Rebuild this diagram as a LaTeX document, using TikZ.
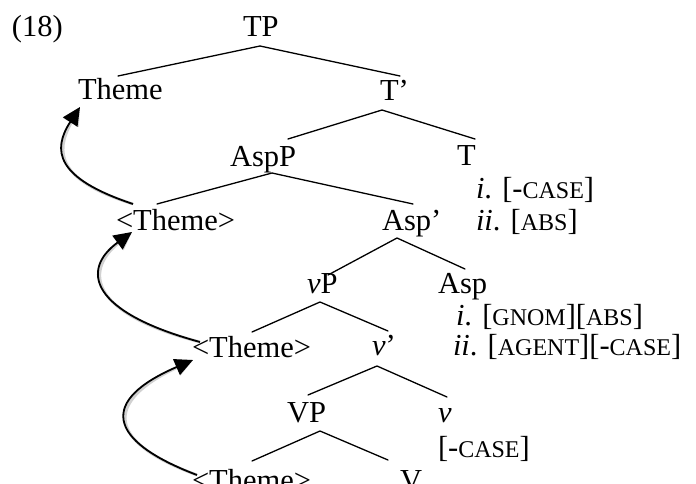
\documentclass[tikz,border=0pt]{standalone}
\usepackage{fontspec}
\setmainfont{Liberation Serif}
\usetikzlibrary{arrows.meta}
\newcommand\fsc[1]{{\fontsize{24}{24}\selectfont #1}}
\begin{document}
\begin{tikzpicture}[x=1pt,y=-1pt,
  lbl/.style={inner sep=0pt, outer sep=0pt, anchor=base west, font=\fontsize{30.5}{32}\selectfont},
  branch/.style={line width=1.3pt, line cap=round},
  move/.style={line width=1.8pt, -{Triangle[length=18pt,width=17pt]}},
  moveshadow/.style={line width=2.8pt, draw=black!18, -{Triangle[length=18pt,width=17pt,fill=black!18]}, shift={(2.5,2.5)}}]
\useasboundingbox (0,0) rectangle (696,484);
% labels
\node[lbl] (ex) at (12,37) {(18)};
\node[lbl] (TP) at (243,37) {TP};
\node[lbl] (Th0) at (78,100) {Theme};
\node[lbl] (Tb) at (380,101) {T’};
\node[lbl] (AspP) at (230,167) {AspP};
\node[lbl] (T) at (457,165) {T};
\node[lbl] (Tf1) at (476,198) {\textit{i}. [-\fsc{CASE}]};
\node[lbl] (Th1) at (116,230) {<Theme>};
\node[lbl] (Aspb) at (382,230) {Asp’};
\node[lbl] (Tf2) at (476,230) {\textit{ii}. [\fsc{ABS}]};
\node[lbl] (vP) at (307,293) {\textit{v}P};
\node[lbl] (Asp) at (438,293) {Asp};
\node[lbl] (Af1) at (456,325) {\textit{i}. [\fsc{GNOM}][\fsc{ABS}]};
\node[lbl] (Th2) at (192,357) {<Theme>};
\node[lbl] (vb) at (372,355) {\textit{v}’};
\node[lbl] (Af2) at (453,355) {\textit{ii}. [\fsc{AGENT}][-\fsc{CASE}]};
\node[lbl] (VP) at (287,422) {VP};
\node[lbl] (v) at (438,422) {\textit{v}};
\node[lbl] (vf) at (438,457) {[-\fsc{CASE}]};
\node[lbl] (Th3) at (192,490) {<Theme>};
\node[lbl] (V) at (400,490) {V};
% branch points
\coordinate (aTP) at (260,46);
\coordinate (eTh0) at (118,76);
\coordinate (eTb) at (400,76);
\coordinate (aTb) at (382,110);
\coordinate (eAspP) at (288,139);
\coordinate (eT) at (475,139);
\coordinate (aAspP) at (272,173);
\coordinate (eTh1) at (157,204);
\coordinate (eAspb) at (413,204);
\coordinate (aAspb) at (397,238);
\coordinate (evP) at (328,275);
\coordinate (eAsp) at (465,269);
\coordinate (avP) at (320,302);
\coordinate (eTh2) at (252,332);
\coordinate (evb) at (388,331);
\coordinate (avb) at (377,366);
\coordinate (eVP) at (308,395);
\coordinate (ev) at (447,397);
\coordinate (aVP) at (320,431);
\coordinate (eTh3) at (252,461);
\coordinate (eV) at (388,460);
\draw[branch] (eTh0) -- (aTP) -- (eTb);
\draw[branch] (eAspP) -- (aTb) -- (eT);
\draw[branch] (eTh1) -- (aAspP) -- (eAspb);
\draw[branch] (evP) -- (aAspb) -- (eAsp);
\draw[branch] (eTh2) -- (avP) -- (evb);
\draw[branch] (eVP) -- (avb) -- (ev);
\draw[branch] (eTh3) -- (aVP) -- (eV);
% movement arrows
\coordinate (s1) at (133,204); \coordinate (t1) at (80,107);
\coordinate (s2) at (200,342); \coordinate (t2) at (132,232);
\coordinate (s3) at (197,475); \coordinate (t3) at (193,360);
\draw[moveshadow] (s1) .. controls (55,178) and (52,150) .. (t1);
\draw[moveshadow] (s2) .. controls (90,312) and (80,270) .. (t2);
\draw[moveshadow] (s3) .. controls (105,440) and (100,400) .. (t3);
\draw[move] (s1) .. controls (55,178) and (52,150) .. (t1);
\draw[move] (s2) .. controls (90,312) and (80,270) .. (t2);
\draw[move] (s3) .. controls (105,440) and (100,400) .. (t3);
\end{tikzpicture}
\end{document}
